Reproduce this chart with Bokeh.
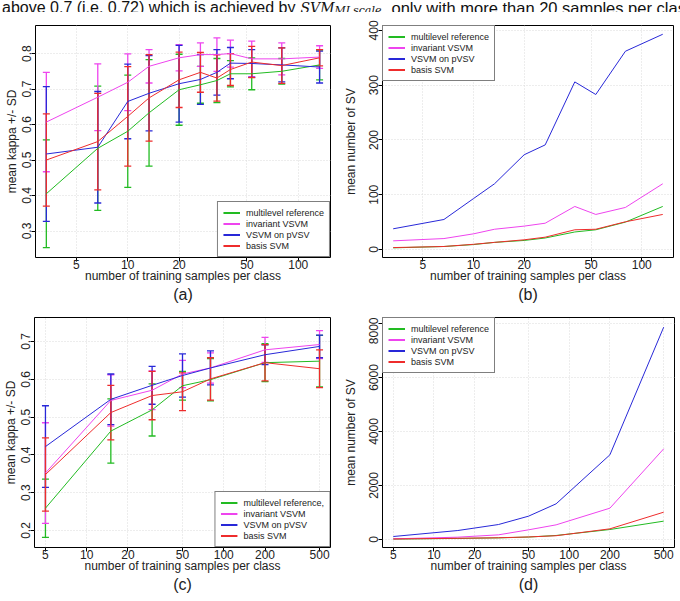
from bokeh.plotting import figure
from bokeh.layouts import column, row
from bokeh.models import (ColumnDataSource, Whisker, TeeHead, Legend, LegendItem,
                          Title, FixedTicker, NumeralTickFormatter, Range1d)
from bokeh.core.properties import value
from bokeh.embed import file_html
from bokeh.resources import INLINE

FONT = "Liberation Sans"

# ---- training set sizes (samples per class) ----
n_small = [3.33, 6.67, 10, 13.33, 20, 26.67, 33.33, 40, 53.33, 80, 133.33]
n_small_sv = [3.33, 6.67, 10, 13.33, 20, 26.67, 40, 53.33, 80, 133.33]
n_large = [5, 15, 30, 50, 80, 200, 500]

series_names = ["multilevel reference", "invariant VSVM", "VSVM on pVSV", "basis SVM"]
series_colors = ["#22BB22", "#EE44EE", "#2828D8", "#EE2C2C"]

# ---- (a) kappa, small data set ----
a_mean = {
    "multilevel reference": [0.405, 0.533, 0.581, 0.633, 0.698, 0.712, 0.724, 0.743, 0.743, 0.750, 0.768],
    "invariant VSVM":       [0.607, 0.677, 0.719, 0.764, 0.788, 0.797, 0.797, 0.800, 0.785, 0.785, 0.790],
    "VSVM on pVSV":         [0.517, 0.536, 0.665, 0.688, 0.715, 0.727, 0.747, 0.773, 0.772, 0.768, 0.762],
    "basis SVM":            [0.500, 0.552, 0.623, 0.675, 0.726, 0.747, 0.731, 0.755, 0.776, 0.766, 0.788],
}
a_sd = {
    "multilevel reference": [0.152, 0.175, 0.158, 0.150, 0.100, 0.052, 0.062, 0.037, 0.045, 0.036, 0.042],
    "invariant VSVM":       [0.140, 0.094, 0.080, 0.047, 0.037, 0.033, 0.047, 0.038, 0.050, 0.045, 0.032],
    "VSVM on pVSV":         [0.190, 0.157, 0.105, 0.106, 0.108, 0.070, 0.064, 0.044, 0.039, 0.048, 0.045],
    "basis SVM":            [0.130, 0.136, 0.140, 0.122, 0.078, 0.056, 0.065, 0.045, 0.044, 0.050, 0.023],
}

# ---- (b) number of support vectors, small data set ----
b_sv = {
    "multilevel reference": [3, 5.5, 9, 13, 16.5, 21, 32, 36, 50, 78.6],
    "invariant VSVM":       [15.8, 20, 28.6, 37, 42.7, 48, 78.6, 64, 76.8, 120],
    "VSVM on pVSV":         [37.8, 54.8, 93, 120, 173, 191, 306, 283, 362, 393],
    "basis SVM":            [3.5, 5.5, 9.5, 13, 17.7, 22.5, 36, 37, 50.6, 64],
}

# ---- (c) kappa, large data set ----
c_mean = {
    "multilevel reference": [0.259, 0.463, 0.519, 0.583, 0.599, 0.644, 0.648],
    "invariant VSVM":       [0.352, 0.544, 0.571, 0.614, 0.630, 0.678, 0.692],
    "VSVM on pVSV":         [0.422, 0.547, 0.584, 0.610, 0.630, 0.665, 0.687],
    "basis SVM":            [0.348, 0.512, 0.557, 0.567, 0.601, 0.644, 0.628],
}
c_sd = {
    "multilevel reference": [0.077, 0.085, 0.069, 0.038, 0.056, 0.050, 0.068],
    "invariant VSVM":       [0.133, 0.068, 0.051, 0.036, 0.040, 0.033, 0.037],
    "VSVM on pVSV":         [0.108, 0.067, 0.050, 0.057, 0.045, 0.026, 0.030],
    "basis SVM":            [0.097, 0.072, 0.064, 0.050, 0.056, 0.048, 0.050],
}

# ---- (d) number of support vectors, large data set ----
d_sv = {
    "multilevel reference": [15, 40, 60, 90, 150, 370, 680],
    "invariant VSVM":       [25, 86, 173, 358, 543, 1160, 3358],
    "VSVM on pVSV":         [111, 333, 555, 864, 1321, 3136, 7864],
    "basis SVM":            [20, 45, 65, 95, 140, 395, 1012],
}

ticks_small = [5, 10, 20, 50, 100]
ticks_large = [5, 10, 20, 50, 100, 200, 500]
xlab = "number of training samples per class"


def make_panel(width, height, border, x_rng, y_rng, xticks, yticks, ylab, ylab_standoff, tag):
    left, right, top, bottom = border
    p = figure(width=width, height=height, x_axis_type="log",
               x_range=Range1d(*x_rng), y_range=Range1d(*y_rng),
               toolbar_location=None, output_backend="svg",
               min_border_left=left, min_border_right=right,
               min_border_top=top, min_border_bottom=bottom)
    p.outline_line_color = "black"
    p.outline_line_width = 1
    p.background_fill_color = "white"
    p.border_fill_color = "white"

    p.xaxis.ticker = FixedTicker(ticks=xticks)
    p.xaxis.formatter = NumeralTickFormatter(format="0")
    p.yaxis.ticker = FixedTicker(ticks=yticks)
    p.yaxis.major_label_orientation = "vertical"
    for ax in (p.xaxis[0], p.yaxis[0]):
        ax.axis_line_color = None
        ax.major_tick_line_color = "black"
        ax.major_tick_out = 4
        ax.major_tick_in = 0
        ax.minor_tick_line_color = None
        ax.major_label_text_font = FONT
        ax.major_label_text_font_size = "12px"
        ax.major_label_text_color = "#222222"
        ax.axis_label_text_font = FONT
        ax.axis_label_text_font_size = "12px"
        ax.axis_label_text_font_style = "normal"
        ax.axis_label_text_color = "#222222"
    p.xaxis.major_label_standoff = -2
    p.yaxis.major_label_standoff = 0
    p.xaxis.axis_label = xlab
    p.xaxis.axis_label_standoff = -3
    p.yaxis.axis_label = ylab
    p.yaxis.axis_label_standoff = ylab_standoff

    p.xgrid.ticker = FixedTicker(ticks=xticks)
    p.ygrid.ticker = FixedTicker(ticks=yticks)
    for g in (p.xgrid[0], p.ygrid[0]):
        g.grid_line_color = "#DADADA"
        g.grid_line_dash = "1 2"
        g.grid_line_width = 1

    p.add_layout(Title(text=tag, align="center", text_font=FONT, text_font_size="16px",
                       text_font_style="normal", text_color="#222222", standoff=-3), "below")
    return p


def add_legend(p, location, names, xs, ys):
    items = []
    for name, label, col in zip(series_names, names, series_colors):
        # single-point line: draws nothing in the frame, only supplies the legend glyph
        proxy = p.line(x=[xs[0]], y=[ys[name][0]], line_color=col, line_width=2)
        items.append(LegendItem(label=label, renderers=[proxy]))
    leg = Legend(items=items, location=location, margin=0, padding=5, spacing=0,
                 glyph_width=17, glyph_height=11, label_height=11, label_standoff=6,
                 label_text_font=FONT, label_text_font_size="9px", label_text_color="#222222",
                 border_line_color="black", border_line_width=1,
                 background_fill_color="white", background_fill_alpha=1.0)
    p.add_layout(leg, "center")


def draw_kappa(p, xs, means, sds):
    for name, col in zip(series_names, series_colors):
        m = means[name]
        s = sds[name]
        src = ColumnDataSource(dict(x=xs, m=m,
                                    lo=[a - b for a, b in zip(m, s)],
                                    hi=[a + b for a, b in zip(m, s)]))
        w = Whisker(source=src, base="x", lower="lo", upper="hi", dimension="height",
                    line_color=col, line_width=1.3,
                    lower_head=TeeHead(size=7, line_color=col, line_width=1.3),
                    upper_head=TeeHead(size=7, line_color=col, line_width=1.3))
        p.add_layout(w)
    for name, col in zip(series_names, series_colors):
        p.line(xs, means[name], line_color=col, line_width=1)


def draw_sv(p, xs, values):
    for name, col in zip(series_names, series_colors):
        p.line(xs, values[name], line_color=col, line_width=1)


# caption fragment above the panels (its upper part runs off the page)
head = figure(width=680, height=12, x_range=Range1d(0, 680), y_range=Range1d(0, 12),
              toolbar_location=None, output_backend="svg", min_border=0,
              x_axis_type=None, y_axis_type=None)
head.outline_line_color = None
head.text(x=[295], y=[5], text=["above 0.7 (i.e. 0.72) which is achieved by"],
          text_font=value(FONT), text_font_size="16px", text_color="#111111",
          text_align="right", text_baseline="alphabetic")
head.text(x=[300], y=[5], text=["SVM"], text_font=value("DejaVu Serif"),
          text_font_style="italic", text_font_size="14px", text_color="#111111",
          text_baseline="alphabetic")
head.text(x=[334], y=[2], text=["MLscale"], text_font=value("DejaVu Serif"),
          text_font_style="italic", text_font_size="11px", text_color="#111111",
          text_baseline="alphabetic")
head.text(x=[391], y=[5], text=["only with more than 20 samples per class."],
          text_font=value(FONT), text_font_size="16.5px", text_color="#111111",
          text_baseline="alphabetic")

xr_small = (2.877, 154.5)
xr_large = (4.16, 601.0)

pa = make_panel(340, 305, (35, 10, 13, 60), xr_small, (0.2254, 0.879), ticks_small,
                [0.3, 0.4, 0.5, 0.6, 0.7, 0.8], "mean kappa +/- SD", 1, "(a)")
draw_kappa(pa, n_small, a_mean, a_sd)
add_legend(pa, "bottom_right", series_names, n_small, a_mean)

pb = make_panel(340, 305, (41, 7, 13, 60), xr_small, (-14.6, 409), ticks_small,
                [0, 100, 200, 300, 400], "mean number of SV", 9, "(b)")
draw_sv(pb, n_small_sv, b_sv)
add_legend(pb, "top_left", series_names, n_small_sv, b_sv)

pc = make_panel(340, 284, (34, 10, 0, 54), xr_large, (0.155, 0.7635), ticks_large,
                [0.2, 0.3, 0.4, 0.5, 0.6, 0.7], "mean kappa +/- SD", 1, "(c)")
draw_kappa(pc, n_large, c_mean, c_sd)
add_legend(pc, "bottom_right",
           ["multilevel reference,", "invariant VSVM", "VSVM on pVSV", "basis SVM"],
           n_large, c_mean)

pd_ = make_panel(340, 284, (41, 6, 0, 54), xr_large, (-296, 8222), ticks_large,
                 [0, 2000, 4000, 6000, 8000], "mean number of SV", 9, "(d)")
draw_sv(pd_, n_large, d_sv)
add_legend(pd_, "top_left", series_names, n_large, d_sv)

layout = column(head, row(pa, pb, spacing=0), row(pc, pd_, spacing=0), spacing=0)

with open("out.html", "w") as f:
    f.write(file_html(layout, INLINE))
